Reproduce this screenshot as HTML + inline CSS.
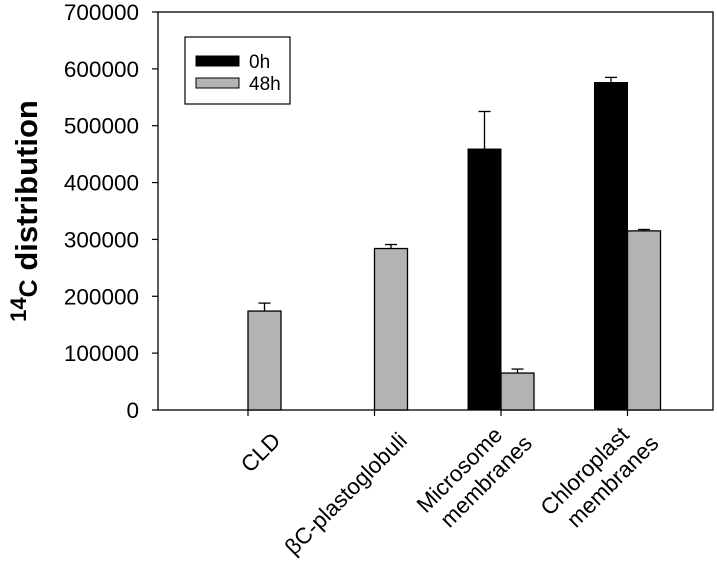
<!DOCTYPE html>
<html><head><meta charset="utf-8"><style>
html,body{margin:0;padding:0;background:#fff;}
svg{display:block;font-family:"Liberation Sans",Arial,sans-serif;}
</style></head><body>
<svg id="chart" width="717" height="577">
<g id="plot"></g>
</svg>
<script>
const categories=[["CLD"],["\u03B2C-plastoglobuli"],["Microsome","membranes"],["Chloroplast","membranes"]];
const values0h=[0,0,459000,576000];
const err0h=[0,0,66000,9000];
const values48h=[174000,284000,65000,315000];
const err48h=[14000,7000,7000,2500];
const yTicks=[0,100000,200000,300000,400000,500000,600000,700000];
const X0=158,X1=713,Y0=410,Y1=12,YMAX=700000;
const ns="http://www.w3.org/2000/svg";
const svg=document.getElementById('plot');
function el(t,a,p){const e=document.createElementNS(ns,t);for(const k in a)e.setAttribute(k,a[k]);(p||svg).appendChild(e);return e;}
function y(v){return Y0-(v/YMAX)*(Y0-Y1);}
function cxi(i){return 248+i*126.5;}
const BW=33;
const fr=el('rect',{x:X0,y:Y1,width:X1-X0,height:Y0-Y1,fill:'none',stroke:'#000','stroke-width':1.3});

yTicks.forEach(v=>{
 const t=el('line',{x1:X0-6,x2:X0,y1:y(v),y2:y(v),stroke:'#000','stroke-width':1.2});
 
 const l=el('text',{x:139,y:y(v)+8,'text-anchor':'end','font-size':22.5,fill:'#000'});
 l.textContent=String(v);
 
});
function errbar(xc,top,e,name){
 const g=el('g',{stroke:'#000','stroke-width':1.3});
 
 el('line',{x1:xc,x2:xc,y1:y(top),y2:y(top+e)},g);
 el('line',{x1:xc-6,x2:xc+6,y1:y(top+e),y2:y(top+e)},g);
}
categories.forEach((c,i)=>{
 const xc=cxi(i);
 const t=el('line',{x1:xc,x2:xc,y1:Y0,y2:Y0+6,stroke:'#000','stroke-width':1.2});
 
 if(values0h[i]>0){
  const b=el('rect',{x:xc-BW,y:y(values0h[i]),width:BW,height:Y0-y(values0h[i]),fill:'#000',stroke:'#000','stroke-width':1});
  
  errbar(xc-BW/2,values0h[i],err0h[i],'error-bar-0h');
 }
 if(values48h[i]>0){
  const b=el('rect',{x:xc,y:y(values48h[i]),width:BW,height:Y0-y(values48h[i]),fill:'#b3b3b3',stroke:'#000','stroke-width':1.3});
  
  errbar(xc+BW/2,values48h[i],err48h[i],'error-bar-48h');
 }
 const n=c.length;
 const g=el('g',{transform:`translate(${xc+24},${432}) rotate(-45)`});
 
 c.forEach((line,j)=>{
  let lx=0,ly=14;
  if(n>1){lx=j==0?-18:-3;ly=j==0?-12:15;}
  const tx=el('text',{x:lx,y:ly,'text-anchor':'end','font-size':22.5,fill:'#000'},g);
  tx.textContent=line;
 });
});
</script>
<script>
const s=document.getElementById('chart');
const NS="http://www.w3.org/2000/svg";
const lg=document.createElementNS(NS,'g');


lg.innerHTML='<rect x="185" y="37" width="105" height="67" fill="#fff" stroke="#000" stroke-width="1.2"/>'+
'<rect x="196" y="56" width="43" height="10" fill="#000" stroke="#000"/>'+
'<text x="249" y="68" font-size="19">0h</text>'+
'<rect x="196" y="78" width="43" height="10" fill="#b3b3b3" stroke="#000"/>'+
'<text x="249" y="90" font-size="19">48h</text>';
s.appendChild(lg);
const yt=document.createElementNS(NS,'text');


yt.setAttribute('transform','translate(37,211) rotate(-90)');
yt.setAttribute('text-anchor','middle');
yt.setAttribute('font-size','31');
yt.setAttribute('font-weight','bold');
yt.innerHTML='<tspan font-size="22" dy="-11">14</tspan><tspan dy="11" font-size="25">C</tspan><tspan> distribution</tspan>';
s.appendChild(yt);
</script>
</body></html>
